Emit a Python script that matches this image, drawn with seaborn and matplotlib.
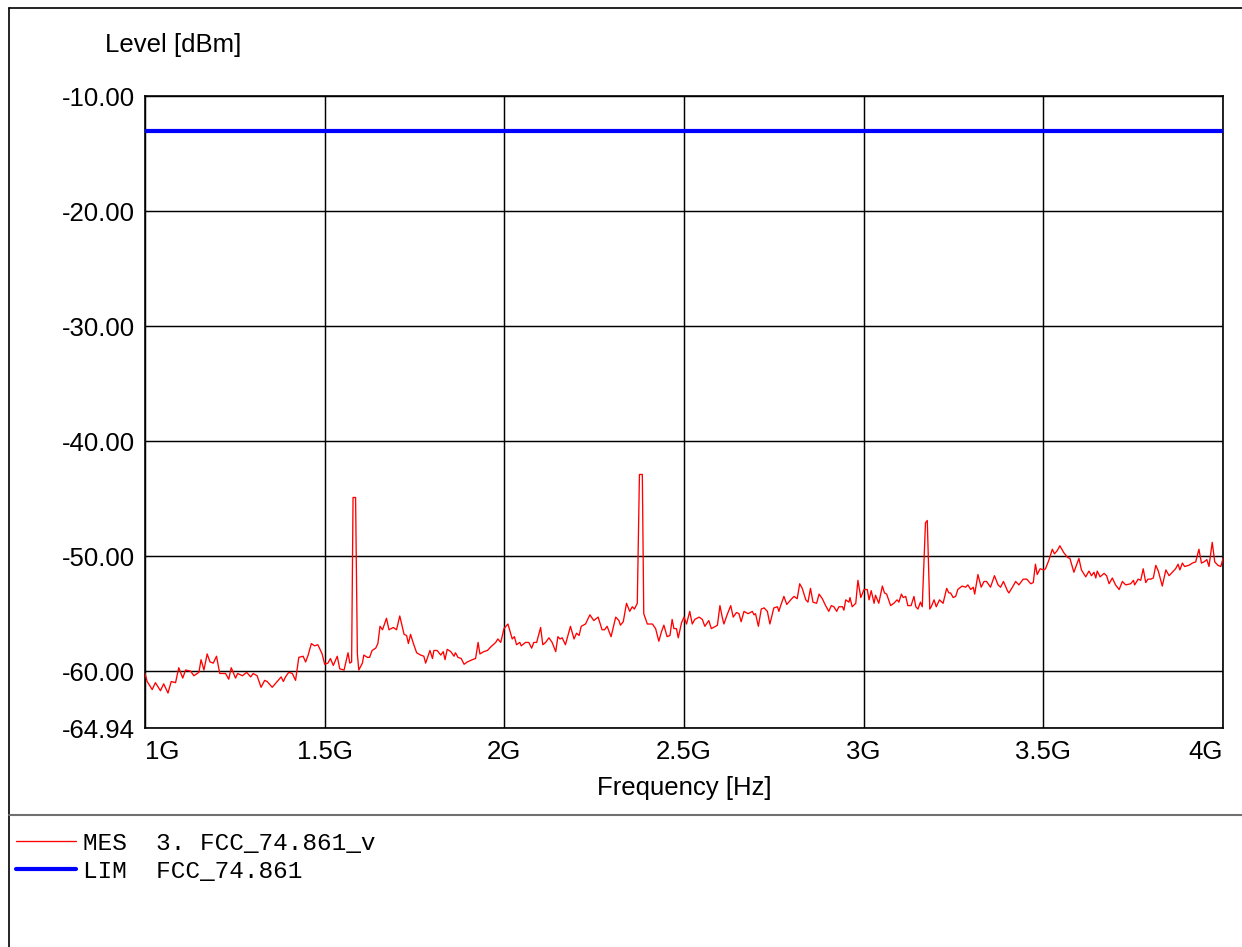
# EMC spectrum plot: measured trace vs FCC limit
# Seaborn line plot in the style of an EMC test receiver report



# Import libraries ............................................................

import numpy as np
import pandas as pd
import seaborn as sns
import matplotlib
matplotlib.use("Agg")
import matplotlib.pyplot as plt
from matplotlib.lines import Line2D



# Data ........................................................................

# Measured trace (MES), frequency in GHz, level in dBm
mes_freq_ghz = [
    1.000, 1.006, 1.020, 1.029, 1.043, 1.052, 1.064, 1.073, 1.085, 1.094,
    1.105, 1.113, 1.127, 1.136, 1.150, 1.156, 1.164, 1.173, 1.181, 1.190,
    1.199, 1.208, 1.224, 1.233, 1.240, 1.252, 1.258, 1.271, 1.283, 1.294,
    1.301, 1.312, 1.323, 1.333, 1.340, 1.354, 1.368, 1.379, 1.385, 1.391,
    1.400, 1.410, 1.419, 1.428, 1.440, 1.447, 1.454, 1.463, 1.472, 1.481,
    1.493, 1.500, 1.509, 1.516, 1.524, 1.535, 1.542, 1.554, 1.565, 1.570,
    1.575, 1.579, 1.586, 1.591, 1.595, 1.605, 1.609, 1.619, 1.625, 1.632,
    1.642, 1.648, 1.654, 1.661, 1.672, 1.679, 1.691, 1.700, 1.709, 1.721,
    1.728, 1.733, 1.739, 1.747, 1.756, 1.767, 1.776, 1.781, 1.793, 1.800,
    1.804, 1.813, 1.823, 1.830, 1.835, 1.841, 1.851, 1.860, 1.864, 1.871,
    1.880, 1.888, 1.897, 1.911, 1.920, 1.927, 1.932, 1.943, 1.953, 1.962,
    1.976, 1.982, 1.990,
    1.999, 2.010, 2.022, 2.028, 2.034, 2.043, 2.047, 2.059, 2.068, 2.076,
    2.082, 2.090, 2.101, 2.107, 2.115, 2.124, 2.133, 2.143, 2.149, 2.155,
    2.161, 2.170, 2.184, 2.194, 2.201, 2.208, 2.214, 2.226, 2.238, 2.249,
    2.261, 2.272, 2.279, 2.286, 2.297, 2.310, 2.319, 2.323, 2.331, 2.340,
    2.349, 2.356, 2.362, 2.370, 2.376, 2.384, 2.388, 2.398, 2.412, 2.421,
    2.430, 2.437, 2.444, 2.453, 2.461, 2.467, 2.472, 2.479, 2.484, 2.493,
    2.500, 2.507, 2.516, 2.523, 2.530, 2.542, 2.551, 2.558, 2.569, 2.576,
    2.588, 2.593, 2.600, 2.607, 2.611, 2.620, 2.630, 2.637, 2.646, 2.653,
    2.659, 2.667, 2.678, 2.685, 2.690, 2.695, 2.699, 2.707, 2.715, 2.723,
    2.732, 2.739, 2.750, 2.760, 2.764, 2.769, 2.778, 2.786, 2.797, 2.806,
    2.815, 2.822, 2.829, 2.839, 2.845, 2.852, 2.859, 2.869, 2.876, 2.885,
    2.894, 2.903, 2.910, 2.917, 2.925, 2.931, 2.941, 2.945, 2.950, 2.959,
    2.962, 2.968, 2.978, 2.984, 2.992,
    3.001, 3.010, 3.015, 3.021, 3.029, 3.033, 3.042, 3.052, 3.058, 3.064,
    3.075, 3.084, 3.093, 3.098, 3.105, 3.110, 3.117, 3.123, 3.132, 3.140,
    3.145, 3.151, 3.158, 3.163, 3.172, 3.177, 3.184, 3.188, 3.196, 3.202,
    3.211, 3.221, 3.231, 3.237, 3.242, 3.249, 3.256, 3.262, 3.274, 3.284,
    3.290, 3.298, 3.305, 3.309, 3.318, 3.327, 3.335, 3.342, 3.353, 3.364,
    3.374, 3.381, 3.389, 3.400, 3.404, 3.414, 3.423, 3.432, 3.444, 3.454,
    3.465, 3.472, 3.478, 3.483, 3.491, 3.502, 3.506, 3.516, 3.525, 3.531,
    3.539, 3.546, 3.557, 3.567, 3.574, 3.585, 3.599, 3.606, 3.618, 3.627,
    3.634, 3.641, 3.646, 3.650, 3.658, 3.669, 3.676, 3.683, 3.692, 3.701,
    3.711, 3.720, 3.729, 3.743, 3.751, 3.754, 3.764, 3.771, 3.778, 3.785,
    3.791, 3.799, 3.806, 3.813, 3.820, 3.831, 3.841, 3.850, 3.859, 3.868,
    3.875, 3.880, 3.887, 3.893, 3.905, 3.915, 3.924, 3.933, 3.940, 3.947,
    3.955, 3.961, 3.970, 3.977, 3.986, 3.994, 4.000,
]

mes_level_dbm = [
    -60.2, -60.9, -61.6, -61.0, -61.7, -61.1, -61.9, -60.9, -61.0, -59.7,
    -60.6, -59.9, -60.0, -60.4, -60.1, -59.0, -59.9, -58.5, -59.2, -59.3,
    -58.7, -60.2, -60.2, -60.7, -59.7, -60.6, -60.2, -60.4, -60.1, -60.5,
    -60.2, -60.4, -61.4, -60.8, -60.9, -61.4, -60.9, -60.5, -60.9, -60.5,
    -60.1, -60.2, -60.8, -58.8, -58.7, -59.2, -58.6, -57.6, -57.8, -57.7,
    -58.5, -59.4, -59.3, -58.9, -59.5, -58.7, -59.8, -59.9, -58.4, -59.3,
    -59.2, -44.9, -44.9, -58.5, -59.9, -59.3, -58.6, -58.8, -58.8, -58.2,
    -58.0, -57.6, -56.1, -56.4, -55.4, -56.4, -56.2, -56.4, -55.2, -56.8,
    -56.9, -57.6, -56.8, -57.6, -58.4, -58.6, -58.7, -59.3, -58.2, -58.9,
    -58.2, -58.2, -58.6, -58.3, -59.0, -58.1, -58.3, -58.7, -58.4, -58.8,
    -58.9, -59.4, -59.2, -59.0, -58.9, -57.5, -58.5, -58.3, -58.2, -57.9,
    -57.5, -57.2, -57.5,
    -56.3, -55.9, -57.2, -57.0, -57.7, -57.5, -57.8, -57.5, -57.5, -58.0,
    -57.5, -57.5, -56.2, -57.7, -57.5, -57.1, -57.5, -58.3, -57.0, -57.2,
    -57.1, -57.7, -56.1, -57.2, -56.7, -56.9, -56.1, -55.9, -55.1, -55.6,
    -55.3, -56.4, -56.4, -56.1, -57.0, -55.3, -55.6, -56.0, -55.7, -54.1,
    -54.8, -54.4, -54.6, -54.1, -42.9, -42.9, -55.0, -55.9, -55.9, -56.3,
    -57.4, -56.6, -56.0, -57.0, -56.9, -55.5, -56.3, -56.3, -57.1, -55.8,
    -55.3, -55.9, -54.8, -55.9, -55.5, -55.3, -55.5, -56.1, -55.6, -56.3,
    -56.1, -56.0, -54.3, -55.4, -55.9, -55.1, -54.3, -55.3, -54.9, -55.0,
    -55.7, -54.8, -55.0, -54.9, -54.8, -55.1, -55.0, -56.1, -54.6, -54.5,
    -54.8, -55.9, -54.5, -54.4, -54.8, -54.3, -53.5, -54.2, -53.8, -53.5,
    -53.7, -52.4, -52.8, -53.8, -54.0, -52.8, -54.0, -54.1, -53.3, -53.7,
    -54.3, -54.8, -54.3, -54.4, -54.8, -54.4, -54.4, -54.7, -53.8, -54.0,
    -53.6, -54.4, -54.1, -52.1, -53.6,
    -52.9, -52.9, -53.8, -53.0, -54.1, -53.4, -54.1, -52.6, -53.2, -53.3,
    -54.3, -54.1, -53.8, -54.0, -53.3, -53.6, -53.5, -54.3, -54.3, -53.5,
    -54.4, -54.6, -54.0, -54.4, -47.1, -46.9, -54.6, -54.4, -53.8, -54.4,
    -53.8, -54.1, -52.8, -53.2, -53.2, -53.6, -53.5, -52.9, -52.6, -52.7,
    -52.5, -52.9, -52.7, -53.3, -51.6, -52.7, -52.2, -52.2, -52.7, -51.7,
    -52.5, -52.7, -52.2, -53.0, -53.2, -52.7, -52.2, -52.5, -52.0, -52.0,
    -52.4, -52.3, -50.7, -51.6, -51.1, -51.2, -51.1, -50.3, -49.4, -49.8,
    -49.5, -49.1, -49.7, -50.1, -50.2, -51.4, -50.2, -51.2, -51.8, -51.3,
    -51.7, -51.4, -51.9, -51.3, -51.8, -51.5, -51.7, -52.4, -51.9, -52.5,
    -52.9, -52.2, -52.5, -52.4, -52.1, -52.5, -52.0, -52.1, -51.1, -52.3,
    -52.0, -52.0, -51.9, -50.8, -51.3, -52.6, -51.2, -51.7, -51.4, -51.1,
    -50.7, -51.2, -50.6, -50.9, -50.8, -50.6, -50.5, -49.4, -50.6, -50.5,
    -50.3, -50.9, -48.8, -50.5, -50.8, -50.9, -50.2,
]

# Limit line (LIM)
lim_freq_ghz = [1.0, 4.0]
lim_level_dbm = [-13.0, -13.0]

# Axis ticks
x_ticks_ghz = [1.0, 1.5, 2.0, 2.5, 3.0, 3.5, 4.0]
x_tick_labels = ["1G", "1.5G", "2G", "2.5G", "3G", "3.5G", "4G"]
y_ticks = [-10.0, -20.0, -30.0, -40.0, -50.0, -60.0, -64.94]

# Legend texts
mes_label = "MES  3. FCC_74.861_v"
lim_label = "LIM  FCC_74.861"



# Build tables ................................................................

mes_df = pd.DataFrame({"freq": np.array(mes_freq_ghz) * 1e9, "level": mes_level_dbm})
lim_df = pd.DataFrame({"freq": np.array(lim_freq_ghz) * 1e9, "level": lim_level_dbm})



# Plot ........................................................................

sns.set_style("white")
plt.rcParams["font.family"] = ["Liberation Sans", "DejaVu Sans"]
plt.rcParams["text.color"] = "black"
plt.rcParams["axes.labelcolor"] = "black"
plt.rcParams["xtick.color"] = "black"
plt.rcParams["ytick.color"] = "black"

W, H = 1242, 947
fig = plt.figure(figsize = (W / 100, H / 100), dpi = 100)
ax = fig.add_axes([145 / W, 1 - 728 / H, (1223 - 145) / W, (728 - 96) / H])

sns.lineplot(data = mes_df, x = "freq", y = "level", ax = ax, color = "#ff0000",
             linewidth = 0.95, estimator = None, sort = False, zorder = 3)
sns.lineplot(data = lim_df, x = "freq", y = "level", ax = ax, color = "#0000ff",
             linewidth = 3.0, estimator = None, sort = False, zorder = 4)

ax.set_xlim(1e9, 4e9)
ax.set_ylim(-64.94, -10.0)

ax.set_xticks(np.array(x_ticks_ghz) * 1e9)
ax.set_xticklabels(x_tick_labels, fontsize = 18.5)
ax.set_yticks(y_ticks)
ax.set_yticklabels([f"{v:.2f}" for v in y_ticks], fontsize = 18.5)
ticklabels = ax.get_xticklabels()
ticklabels[0].set_ha("left")
ticklabels[-1].set_ha("right")
ax.tick_params(axis = "y", length = 0, pad = 7, colors = "black")
ax.tick_params(axis = "x", length = 0, pad = 8.5, colors = "black")

ax.grid(True, color = "black", linewidth = 1.05)
ax.set_axisbelow(True)
for side in ax.spines.values():
    side.set_color("black")
    side.set_linewidth(1.2)

ax.set_xlabel("Frequency [Hz]", fontsize = 18.5, labelpad = 9, color = "black")
ax.set_ylabel("Level [dBm]", fontsize = 18.5, rotation = 0, ha = "left", va = "center",
              color = "black")
ax.yaxis.set_label_coords(-0.0371, 1.0807)

# Report frame and separator
fig.add_artist(Line2D([8.5 / W, 8.5 / W], [0, 1 - 8.5 / H], color = "black", lw = 1.2))
fig.add_artist(Line2D([8.5 / W, 1], [1 - 8.5 / H, 1 - 8.5 / H], color = "black", lw = 1.2))
fig.add_artist(Line2D([8.5 / W, 1], [1 - 815 / H, 1 - 815 / H], color = "#707070", lw = 1.5))

# Legend below the plot
lines = ax.get_lines()
fig.legend([lines[0], lines[1]], [mes_label, lim_label],
           loc = "upper left", bbox_to_anchor = (16 / W, 1 - 832 / H),
           prop = {"family": "Liberation Mono", "size": 17.6},
           frameon = False, handlelength = 2.46, handletextpad = 0.3,
           labelspacing = 0.2, borderpad = 0, borderaxespad = 0)

fig.savefig("out.png", dpi = 100)
